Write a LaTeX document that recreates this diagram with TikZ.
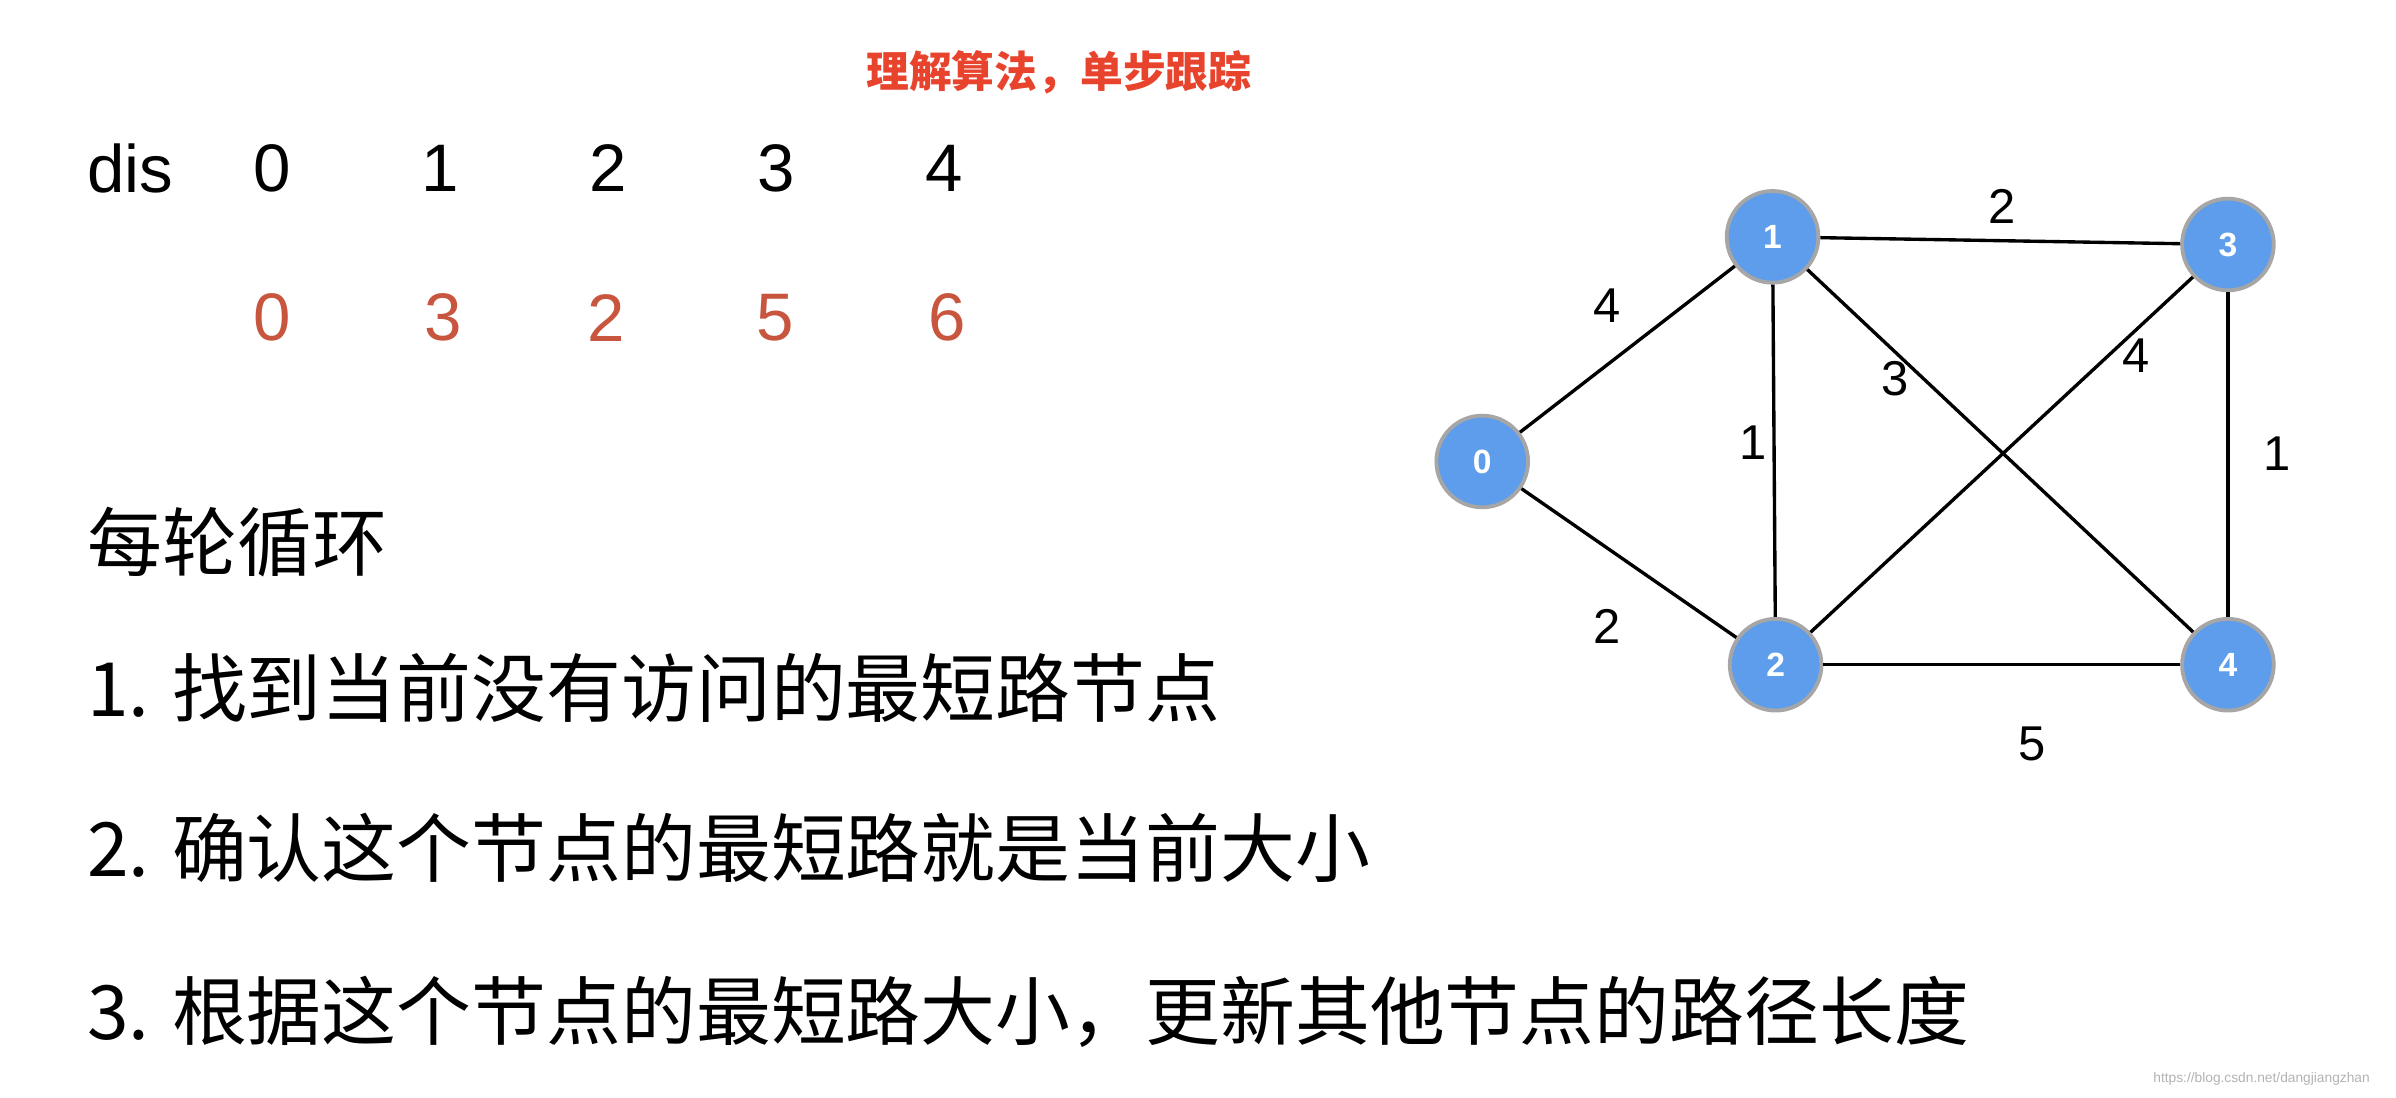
\documentclass[tikz,border=0pt]{standalone}
\usepackage{fontspec}
\setmainfont{Liberation Sans}
\newfontfamily\cjk{Noto Sans CJK SC}
\definecolor{nred}{HTML}{C8553D}
\definecolor{tred}{HTML}{E8432D}
\definecolor{nblue}{HTML}{5E9DEB}
\begin{document}
\begin{tikzpicture}[x=1pt,y=-1pt,
  big/.style={font=\fontsize{44}{48}\selectfont,inner sep=0},
  line/.style={font=\fontsize{49}{56}\selectfont\cjk,anchor=west,inner sep=0},
  vert/.style={circle,fill=nblue,draw=gray!70,line width=2.5pt,minimum size=60pt,inner sep=0,text=white,font=\fontsize{22}{24}\selectfont\bfseries},
  wt/.style={font=\fontsize{32}{36}\selectfont,inner sep=0},
  edge/.style={line width=2.2pt}]
\useasboundingbox (0,0) rectangle (1568,718.5);
\node[font=\fontsize{28}{32}\selectfont\cjk\bfseries,text=tred] (title) at (693,47) {理解算法，单步跟踪};
\node[big,anchor=west] (dis) at (57,110) {dis};
\foreach \x/\n in {178/0,288/1,398/2,508/3,618/4} \node[big] (h\n) at (\x,110) {\n};
\foreach \x/\v/\i in {178/0/0,290/3/1,397/2/2,507/5/3,620/6/4} \node[big,text=nred] (r\i) at (\x,208) {\v};
\node[line] (t0) at (57,355) {每轮循环};
\node[line] (t1) at (57,450) {1. 找到当前没有访问的最短路节点};
\node[line] (t2) at (57,555) {2. 确认这个节点的最短路就是当前大小};
\node[line] (t3) at (57,662) {3. 根据这个节点的最短路大小，更新其他节点的路径长度};
\node[vert] (n0) at (970,302) {0};
\node[vert] (n1) at (1160,155) {1};
\node[vert] (n3) at (1458,160) {3};
\node[vert] (n2) at (1162,435) {2};
\node[vert] (n4) at (1458,435) {4};
\draw[edge] (n0) -- (n1);
\draw[edge] (n0) -- (n2);
\draw[edge] (n1) -- (n3);
\draw[edge] (n1) -- (n2);
\draw[edge] (n1) -- (n4);
\draw[edge] (n2) -- (n3);
\draw[edge] (n3) -- (n4);
\draw[edge] (n2) -- (n4);
\node[wt] (w01) at (1052,200) {4};
\node[wt] (w13) at (1310,135) {2};
\node[wt] (w14) at (1240,248) {3};
\node[wt] (w23) at (1398,233) {4};
\node[wt] (w12) at (1147,290) {1};
\node[wt] (w34) at (1490,297) {1};
\node[wt] (w02) at (1052,410) {2};
\node[wt] (w24) at (1330,487) {5};
\node[font=\fontsize{9}{10}\selectfont,text=gray!60] (wm) at (1480,706) {https://blog.csdn.net/dangjiangzhan};
\end{tikzpicture}
\end{document}
